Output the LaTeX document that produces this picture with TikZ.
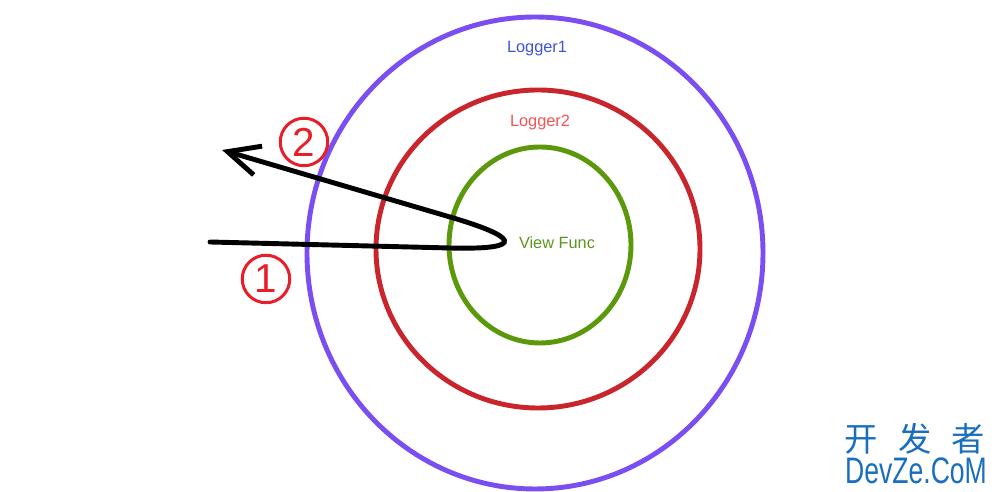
\documentclass[tikz,border=0pt]{standalone}
\usepackage{fontspec}
\setmainfont{Liberation Sans}
\newfontfamily\cjkfont{Noto Sans CJK SC}
\usepackage{graphicx}
\usetikzlibrary{arrows.meta, positioning, calc}
\definecolor{ringpurple}{RGB}{122, 78, 240}
\definecolor{ringred}{RGB}{200, 38, 44}
\definecolor{ringgreen}{RGB}{92, 152, 12}
\definecolor{tagblue}{RGB}{64, 84, 214}
\definecolor{tagred}{RGB}{240, 84, 84}
\definecolor{taggreen}{RGB}{92, 150, 30}
\definecolor{numred}{RGB}{232, 30, 40}
\definecolor{siteblue}{RGB}{26, 110, 190}

\begin{document}
\begin{tikzpicture}[x=0.02cm, y=-0.02cm, line cap=round,
    ring/.style={line width=2.8pt},
    tag/.style={font=\fontsize{9.3}{11}\selectfont, inner sep=0pt},
    numcirc/.style={circle, draw=numred, text=numred, line width=1.7pt,
      minimum size=0.95cm, inner sep=0pt, font=\fontsize{23}{23}\selectfont},
    flow/.style={line width=2.8pt, -{Straight Barb[length=18pt, width=17pt]}}]
  \useasboundingbox (0,0) rectangle (998,492);

  % the three layers
  \coordinate (outer) at (535,253);
  \coordinate (middle) at (538,249);
  \coordinate (core) at (540,245);
  \draw[ring, ringpurple] (outer) ellipse [x radius=228, y radius=236];
  \draw[ring, ringred] (middle) ellipse [x radius=162, y radius=159];
  \draw[ring, ringgreen] (core) ellipse [x radius=91, y radius=98];

  \node[tag, tagblue]  (logger1) at (537,49)  {Logger1};
  \node[tag, tagred]   (logger2) at (540,122) {Logger2};
  \node[tag, taggreen] (view)    at (557,243) {View Func};

  % call goes in and comes back out
  \coordinate (entry)   at (210,242);
  \coordinate (loopin)  at (450,248);
  \coordinate (loopout) at (450,217);
  \coordinate (exit)    at (222,150);
  \draw[flow] (entry) -- (loopin) .. controls (530,250) and (515,236) .. (loopout) -- (exit);

  \node[numcirc] (one) at (266,279) {1};
  \node[numcirc] (two) at (304,142) {2};

  \node[text=siteblue, font=\cjkfont\fontsize{19}{19}\selectfont, inner sep=0pt] (sitecn) at (915,439)
    {开\hspace{0.6em}发\hspace{0.6em}者};
  \node[text=siteblue, font=\fontsize{21}{21}\selectfont, inner sep=0pt] (siteen) at (916,471)
    {\scalebox{0.72}[1]{DevZe.CoM}};
\end{tikzpicture}
\end{document}
